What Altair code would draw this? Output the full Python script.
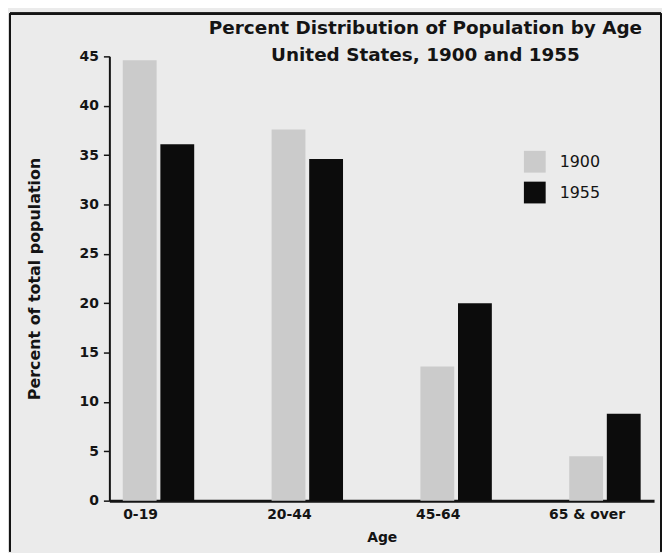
import altair as alt
import pandas as pd

ages = ["0-19", "20-44", "45-64", "65 & over"]
years = ["1900", "1955"]
pct_1900 = [44.6, 37.6, 13.6, 4.5]
pct_1955 = [36.1, 34.6, 20.0, 8.8]
y_ticks = [0, 5, 10, 15, 20, 25, 30, 35, 40, 45]

rows = []
for a, v1, v2 in zip(ages, pct_1900, pct_1955):
    rows.append({"age": a, "year": "1900", "pct": v1})
    rows.append({"age": a, "year": "1955", "pct": v2})
df = pd.DataFrame(rows)

FONT = "DejaVu Sans"
INK = "#141414"

bars = alt.Chart(df).mark_bar().encode(
    x=alt.X(
        "age:N", sort=ages,
        scale=alt.Scale(paddingInner=0.52, paddingOuter=0.09),
        axis=alt.Axis(
            title="Age", labelAngle=0, ticks=False, domainWidth=3, domainColor=INK,
            labelFont=FONT, labelFontSize=14, labelFontWeight="bold", labelColor=INK,
            labelPadding=7, labelOffset=-18, titleFont=FONT, titleFontSize=14,
            titleFontWeight="bold", titleColor=INK, titlePadding=9,
        ),
    ),
    xOffset=alt.XOffset("year:N", sort=years, scale=alt.Scale(paddingInner=0.1)),
    y=alt.Y(
        "pct:Q", scale=alt.Scale(domain=[0, 45], nice=False),
        axis=alt.Axis(
            values=y_ticks, title="Percent of total population", grid=False,
            tickSize=6, tickColor=INK, tickWidth=1.5, domainColor=INK, domainWidth=2,
            labelFont=FONT, labelFontSize=14, labelFontWeight="bold", labelColor=INK,
            labelPadding=5, titleFont=FONT, titleFontSize=16, titleFontWeight="bold",
            titleColor=INK, titlePadding=37,
        ),
    ),
    color=alt.Color(
        "year:N", sort=years,
        scale=alt.Scale(domain=years, range=["#cbcbcb", "#0c0c0c"]),
        legend=alt.Legend(
            title=None, orient="none", legendX=417, legendY=95,
            symbolType="square", symbolSize=480, symbolStrokeWidth=0,
            labelFont=FONT, labelFontSize=16, labelColor=INK, rowPadding=9,
            labelOffset=14,
        ),
    ),
)

frame_left = alt.Chart(df).mark_rule(color=INK, strokeWidth=2).encode(
    x=alt.value(-100), y=alt.value(-43), y2=alt.value(498))
frame_top = alt.Chart(df).mark_rule(color=INK, strokeWidth=2).encode(
    x=alt.value(-100), x2=alt.value(555), y=alt.value(-43))
frame_right = alt.Chart(df).mark_rule(color=INK, strokeWidth=2).encode(
    x=alt.value(555), y=alt.value(-43), y2=alt.value(498))

chart = alt.layer(frame_left, frame_top, frame_right, bars).properties(
    width=548, height=447,
    autosize=alt.AutoSizeParams(type="none"),
    padding={"left": 102, "top": 47, "right": 8, "bottom": 51},
    background="#ebebeb",
    title=alt.TitleParams(
        text=["Percent Distribution of Population by Age", "United States, 1900 and 1955"],
        font=FONT, fontSize=18.5, fontWeight="bold", color=INK, lineHeight=27,
        anchor="middle", dx=44, dy=44, offset=-8,
    ),
).configure_view(stroke=None)

chart.save("out.html", embed_options={"renderer": "svg", "actions": False})
